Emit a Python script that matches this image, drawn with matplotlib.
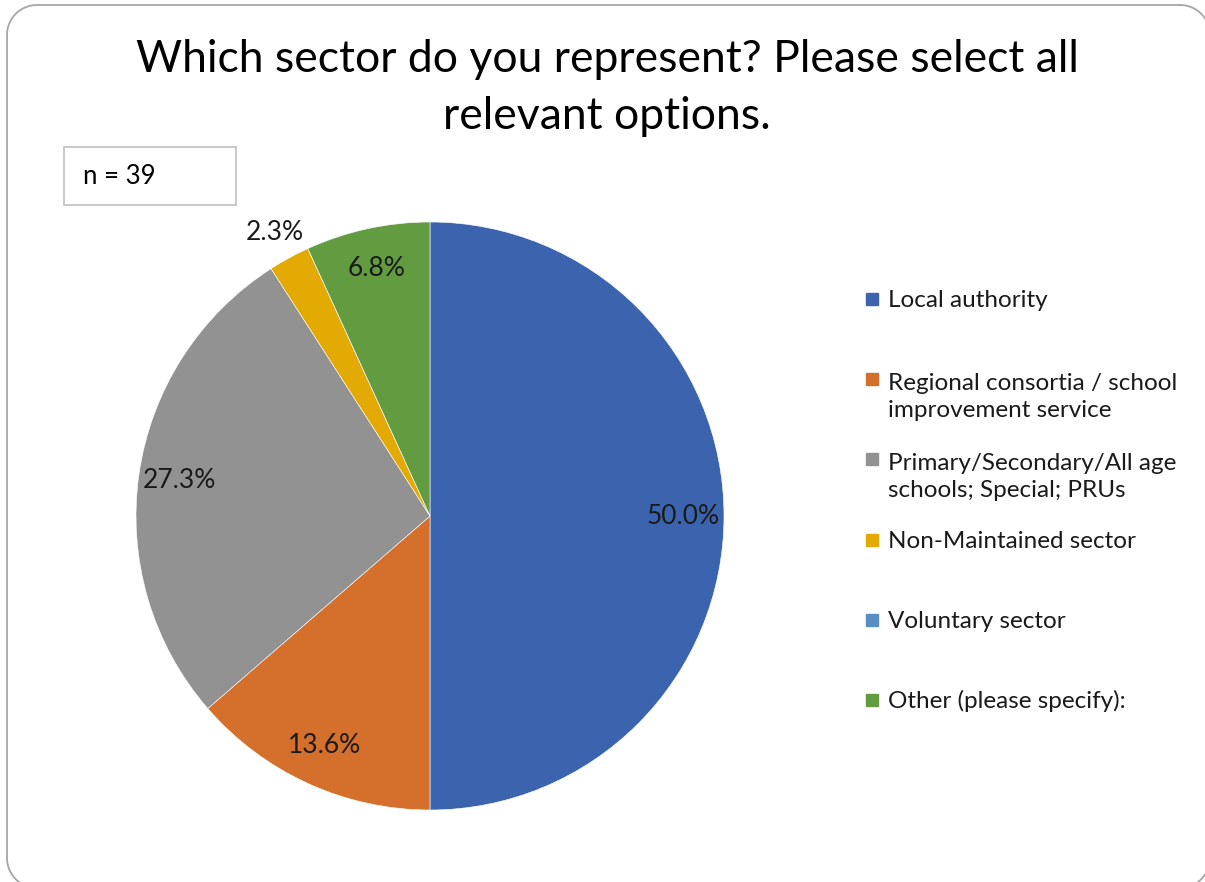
import numpy as np
import matplotlib
matplotlib.use("Agg")
import matplotlib.pyplot as plt
from matplotlib.patches import Rectangle
from matplotlib.transforms import Affine2D

plt.rcParams['font.family'] = ['Lato', 'DejaVu Sans']

# responses per sector (44 selections from 39 respondents)
sectors = ['Local authority',
           'Regional consortia / school\nimprovement service',
           'Primary/Secondary/All age\nschools; Special; PRUs',
           'Non-Maintained sector',
           'Voluntary sector',
           'Other (please specify):']
counts = [22, 6, 12, 1, 0, 3]
colors = ['#3C64AE', '#D4702C', '#929292', '#E3AA04', '#5B8FC3', '#629B40']
title = 'Which sector do you represent? Please select all\nrelevant options.'
n_note = 'n = 39'

W, H = 1205, 882
fig = plt.figure(figsize=(W / 100, H / 100), dpi=100)

# pixels measured from the top-left corner
pix = Affine2D().scale(1, -1).translate(0, H)


def px(x, y):
    # pixel position (from top-left) -> figure fraction
    return x / W, 1 - y / H


# rounded frame round the whole chart, on a background axes in pixel units
# (right and bottom edges run just past the canvas)
bg = fig.add_axes([0, 0, 1, 1], zorder=-1)
bg.set_xlim(0, W)
bg.set_ylim(H, 0)
bg.axis('off')
x0, y0, x1, y1, rr = 7, 5, 1210, 888, 30
t = np.linspace(0, np.pi / 2, 30)
fx = np.concatenate([x1 - rr + rr * np.sin(t), x1 - rr + rr * np.cos(t),
                     x0 + rr - rr * np.sin(t), x0 + rr - rr * np.cos(t)])
fy = np.concatenate([y0 + rr - rr * np.cos(t), y1 - rr + rr * np.sin(t),
                     y1 - rr + rr * np.cos(t), y0 + rr - rr * np.sin(t)])
bg.plot(np.append(fx, fx[0]), np.append(fy, fy[0]), color='#A6A6A6', lw=1.3,
        clip_on=False)

fig.text(*px(607, 88), title, ha='center', va='center', fontsize=32,
         linespacing=1.46, color='black')

# n box
fig.patches.append(Rectangle((64, 147), 172, 58, transform=pix,
                             fill=False, edgecolor='#BFBFBF', linewidth=1.2))
fig.text(*px(83, 177), n_note, ha='left', va='center', fontsize=18.5)

# pie
cx, cy, r = 430, 516, 294
ax = fig.add_axes([(cx - r) / W, (H - cy - r) / H, 2 * r / W, 2 * r / H])


def fmt(p):
    return '%.1f%%' % p if p > 0.05 else ''


wedges, texts, autotexts = ax.pie(counts, colors=colors, startangle=90, counterclock=False,
                                  autopct=fmt, pctdistance=0.86,
                                  wedgeprops=dict(edgecolor='white', linewidth=0.4),
                                  textprops=dict(fontsize=19, color='#1a1a1a'))
ax.set_xlim(-1, 1)
ax.set_ylim(-1, 1)
ax.set_aspect('equal')

# small slice label sits outside the pie
total = sum(counts)
for w, t_, c in zip(wedges, autotexts, counts):
    if 0 < c / total < 0.04:
        ang = np.deg2rad((w.theta1 + w.theta2) / 2)
        t_.set_position((1.1 * np.cos(ang), 1.1 * np.sin(ang)))

# legend drawn entry by entry so the key lines up with the first text line
for i, (lab, col) in enumerate(zip(sectors, colors)):
    y = 299 + 80.2 * i
    fig.patches.append(Rectangle((866, y - 6), 12, 12, transform=pix, color=col))
    yb = y + 8 + 30 * lab.count('\n')
    fig.text(*px(888, yb), lab, ha='left', va='baseline', fontsize=17.5,
             linespacing=1.38, color='#1a1a1a')

fig.savefig('out.png', dpi=100)
